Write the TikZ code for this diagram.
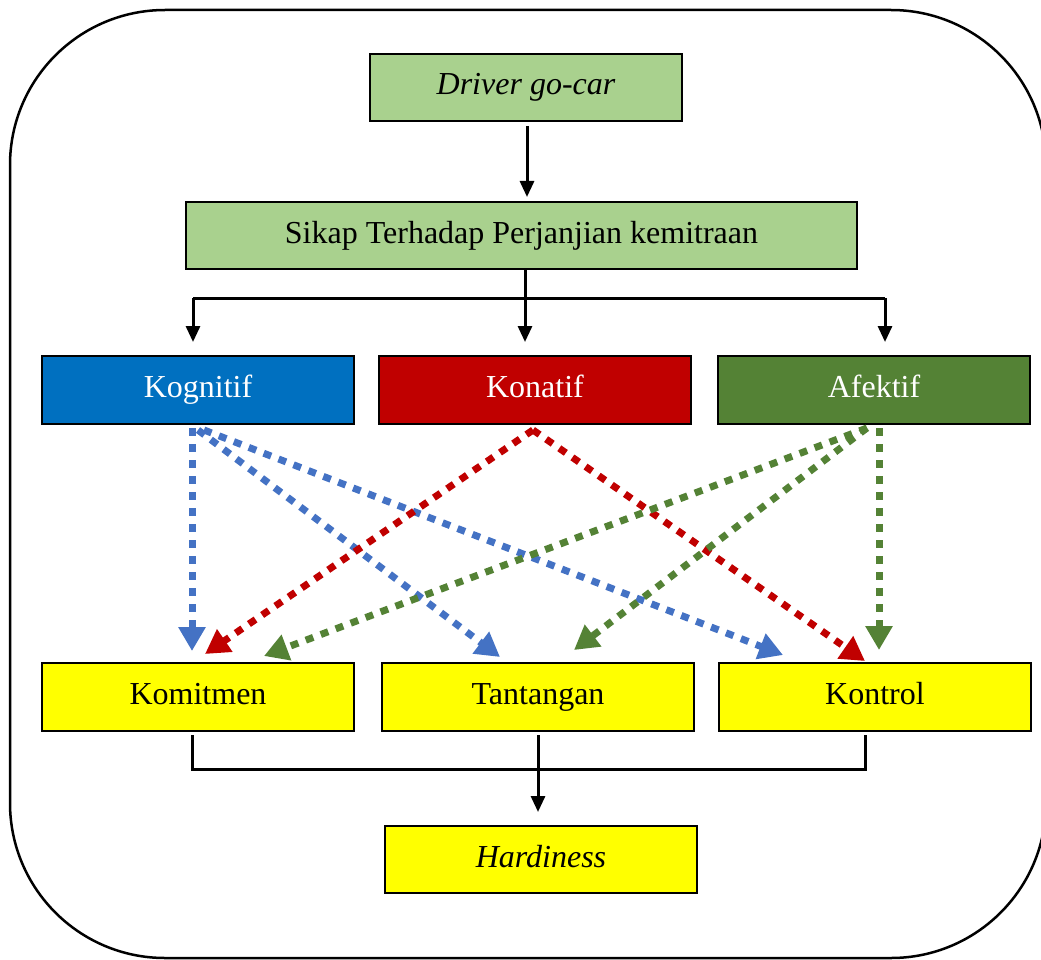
\documentclass[tikz,border=0pt]{standalone}
\usepackage{fontspec}
\setmainfont{Liberation Serif}
\usetikzlibrary{arrows.meta}
\definecolor{lgreen}{HTML}{A9D18E}
\definecolor{kblue}{HTML}{0070C0}
\definecolor{kred}{HTML}{C00000}
\definecolor{kgreen}{HTML}{548235}
\definecolor{kyellow}{HTML}{FFFF00}
\definecolor{dblue}{HTML}{4472C4}
\tikzset{
  box/.style={draw=black, line width=2.5pt, minimum width=312pt, minimum height=67pt,
    inner sep=0pt, outer sep=0pt, font=\fontsize{32}{38}\selectfont,
    text height=22pt, text depth=7pt},
  solidline/.style={line width=3pt, black},
  solidarrow/.style={solidline, -{Triangle[length=16pt,width=14pt]}},
  dotarrow/.style={line width=7pt, dash pattern=on 8pt off 8pt,
    -{Triangle[length=24pt,width=26pt]}},
}
\begin{document}
\begin{tikzpicture}[x=1pt,y=-1pt]
\useasboundingbox (0,0) rectangle (1041,960);
\draw[line width=2.5pt, rounded corners=155pt] (10,10) rectangle (1046,958);

\node[box, fill=lgreen] (drv) at (526,87.5) {\itshape Driver go-car};
\node[box, fill=lgreen, minimum width=671pt] (sik) at (521.5,235.5) {Sikap Terhadap Perjanjian kemitraan};
\node[box, fill=kblue, text=white, minimum height=68pt] (kog) at (198,390) {Kognitif};
\node[box, fill=kred, text=white, minimum height=68pt] (kot) at (535,390) {Konatif};
\node[box, fill=kgreen, text=white, minimum height=68pt] (afe) at (874,390) {Afektif};
\node[box, fill=kyellow, minimum height=68pt] (kom) at (198,697) {Komitmen};
\node[box, fill=kyellow, minimum height=68pt] (tan) at (538,697) {Tantangan};
\node[box, fill=kyellow, minimum height=68pt] (kon) at (875,697) {Kontrol};
\node[box, fill=kyellow] (har) at (541,859.5) {\itshape Hardiness};

% top connectors
\draw[solidarrow] ([xshift=1pt,yshift=-5pt]drv.south) -- ([xshift=5.5pt,yshift=5pt]sik.north);
\coordinate (sl) at (193,298);
\coordinate (sr) at (885,298);
\draw[solidline] (sl) -- (sr);
\draw[solidarrow] (sl) -- ([xshift=-5pt,yshift=14pt]kog.north);
\draw[solidarrow] (sr) -- ([xshift=11pt,yshift=14pt]afe.north);
\draw[solidarrow] ([xshift=3.5pt]sik.south) -- ([xshift=-10pt,yshift=14pt]kot.north);

% dotted arrows
\draw[dotarrow, dblue] ([xshift=-6pt,yshift=-4pt]kog.south) -- ([xshift=-6pt,yshift=12pt]kom.north);
\draw[dotarrow, dblue] ([xshift=0pt,yshift=-6pt]kog.south) -- ([xshift=-38pt,yshift=6pt]tan.north);
\draw[dotarrow, dblue] ([xshift=6pt,yshift=-6pt]kog.south) -- ([xshift=-92pt,yshift=8pt]kon.north);
\draw[dotarrow, kred] ([xshift=-2pt,yshift=-6pt]kot.south) -- ([xshift=7pt,yshift=9pt]kom.north);
\draw[dotarrow, kred] ([xshift=-2pt,yshift=-6pt]kot.south) -- ([xshift=-10pt,yshift=2pt]kon.north);
\draw[dotarrow, kgreen] ([xshift=-7pt,yshift=-4pt]afe.south) -- ([xshift=66pt,yshift=7pt]kom.north);
\draw[dotarrow, kgreen] ([xshift=-7pt,yshift=-4pt]afe.south) -- ([xshift=36pt,yshift=13pt]tan.north);
\draw[dotarrow, kgreen] ([xshift=5pt,yshift=-4pt]afe.south) -- ([xshift=4pt,yshift=13pt]kon.north);

% bottom connectors
\coordinate (join) at (538,769);
\draw[solidline] ([xshift=-6pt,yshift=-4pt]kom.south) |- (join) -| ([xshift=-10pt,yshift=-4pt]kon.south);
\draw[solidarrow, shorten <=4pt, shorten >=14pt] (tan.south) -- (tan.south |- har.north);
\end{tikzpicture}
\end{document}
